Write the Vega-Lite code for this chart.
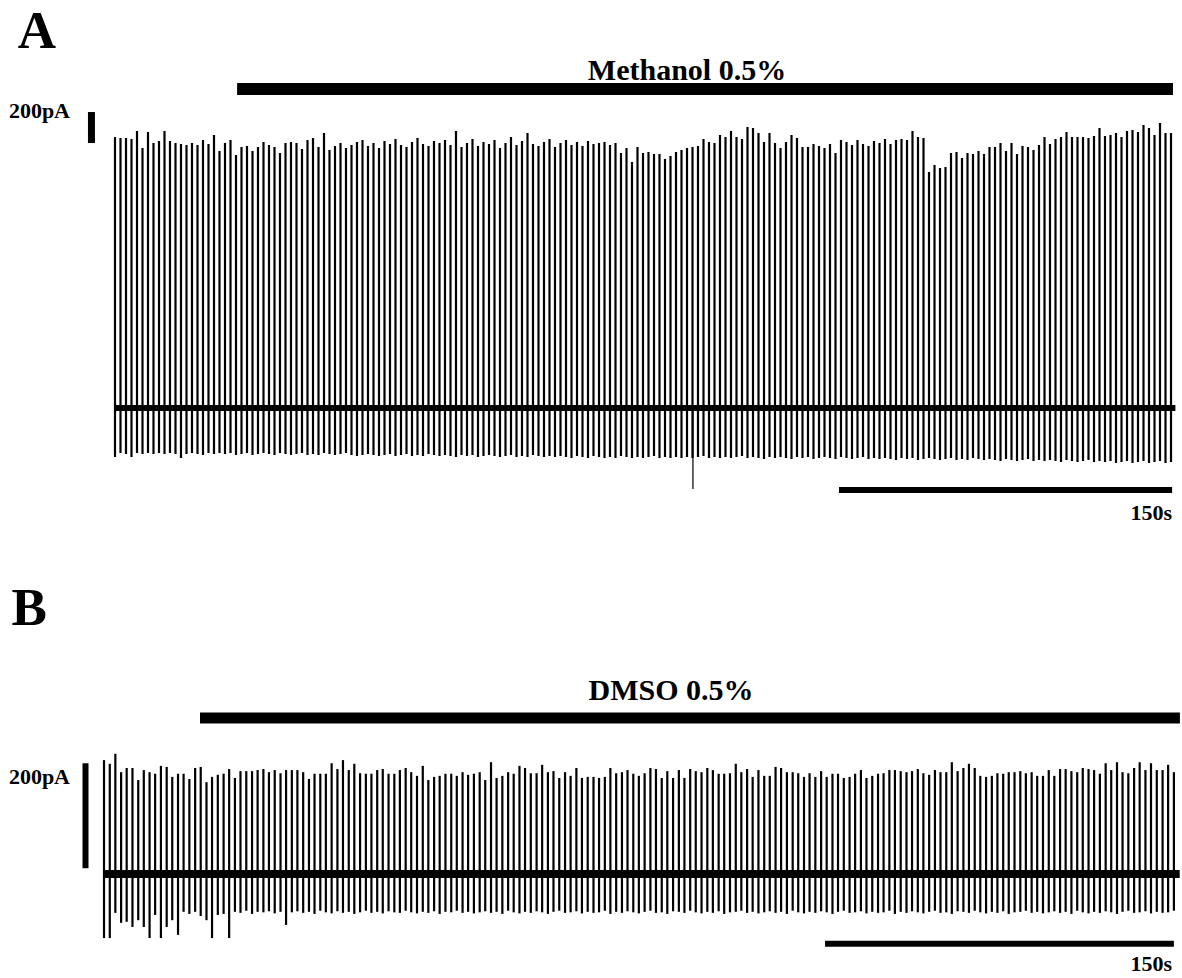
{
"$schema":"https://vega.github.io/schema/vega-lite/v6.json",
"padding":0,"spacing":0,
"config":{"view":{"stroke":null},"text":{"font":"Liberation Serif","fontWeight":"bold","color":"black","baseline":"alphabetic"},"rule":{"color":"black"}},
"datasets":{
"A":[{"t":0,"v":-316,"v2":1748},{"t":2.5,"v":-290,"v2":1742},{"t":5,"v":-297,"v2":1742},{"t":7.5,"v":-316,"v2":1735},{"t":10,"v":-290,"v2":1787},{"t":12.5,"v":-297,"v2":1677},{"t":15,"v":-290,"v2":1780},{"t":17.5,"v":-297,"v2":1709},{"t":20,"v":-290,"v2":1722},{"t":22.5,"v":-297,"v2":1787},{"t":25,"v":-290,"v2":1722},{"t":27.5,"v":-297,"v2":1709},{"t":30,"v":-323,"v2":1703},{"t":32.5,"v":-297,"v2":1696},{"t":35,"v":-290,"v2":1709},{"t":37.5,"v":-297,"v2":1696},{"t":40,"v":-303,"v2":1729},{"t":42.5,"v":-290,"v2":1703},{"t":45,"v":-297,"v2":1761},{"t":47.5,"v":-290,"v2":1658},{"t":50,"v":-297,"v2":1709},{"t":52.5,"v":-290,"v2":1729},{"t":55,"v":-303,"v2":1632},{"t":57.5,"v":-297,"v2":1683},{"t":60,"v":-290,"v2":1690},{"t":62.5,"v":-303,"v2":1658},{"t":65,"v":-297,"v2":1683},{"t":67.5,"v":-290,"v2":1716},{"t":70,"v":-297,"v2":1696},{"t":72.5,"v":-303,"v2":1683},{"t":75,"v":-290,"v2":1645},{"t":77.5,"v":-297,"v2":1709},{"t":80,"v":-303,"v2":1716},{"t":82.5,"v":-297,"v2":1709},{"t":85,"v":-290,"v2":1671},{"t":87.5,"v":-303,"v2":1729},{"t":90,"v":-297,"v2":1742},{"t":92.5,"v":-303,"v2":1683},{"t":95,"v":-290,"v2":1774},{"t":97.5,"v":-297,"v2":1664},{"t":100,"v":-303,"v2":1690},{"t":102.5,"v":-297,"v2":1709},{"t":105,"v":-290,"v2":1677},{"t":107.5,"v":-303,"v2":1696},{"t":110,"v":-310,"v2":1716},{"t":112.5,"v":-303,"v2":1729},{"t":115,"v":-297,"v2":1690},{"t":117.5,"v":-303,"v2":1709},{"t":120,"v":-310,"v2":1677},{"t":122.5,"v":-303,"v2":1722},{"t":125,"v":-297,"v2":1703},{"t":127.5,"v":-310,"v2":1735},{"t":130,"v":-303,"v2":1696},{"t":132.5,"v":-297,"v2":1683},{"t":135,"v":-310,"v2":1716},{"t":137.5,"v":-303,"v2":1742},{"t":140,"v":-310,"v2":1703},{"t":142.5,"v":-297,"v2":1690},{"t":145,"v":-303,"v2":1722},{"t":147.5,"v":-310,"v2":1709},{"t":150,"v":-303,"v2":1729},{"t":152.5,"v":-310,"v2":1696},{"t":155,"v":-316,"v2":1787},{"t":157.5,"v":-303,"v2":1683},{"t":160,"v":-310,"v2":1709},{"t":162.5,"v":-303,"v2":1735},{"t":165,"v":-316,"v2":1690},{"t":167.5,"v":-310,"v2":1716},{"t":170,"v":-303,"v2":1703},{"t":172.5,"v":-310,"v2":1729},{"t":175,"v":-316,"v2":1677},{"t":177.5,"v":-310,"v2":1709},{"t":180,"v":-303,"v2":1748},{"t":182.5,"v":-316,"v2":1696},{"t":185,"v":-310,"v2":1722},{"t":187.5,"v":-316,"v2":1774},{"t":190,"v":-303,"v2":1703},{"t":192.5,"v":-310,"v2":1690},{"t":195,"v":-316,"v2":1716},{"t":197.5,"v":-310,"v2":1735},{"t":200,"v":-316,"v2":1683},{"t":202.5,"v":-310,"v2":1709},{"t":205,"v":-316,"v2":1729},{"t":207.5,"v":-323,"v2":1696},{"t":210,"v":-310,"v2":1716},{"t":212.5,"v":-316,"v2":1690},{"t":215,"v":-323,"v2":1722},{"t":217.5,"v":-310,"v2":1703},{"t":220,"v":-316,"v2":1709},{"t":222.5,"v":-323,"v2":1716},{"t":225,"v":-316,"v2":1696},{"t":227.5,"v":-323,"v2":1709},{"t":230,"v":-310,"v2":1645},{"t":232.5,"v":-316,"v2":1677},{"t":235,"v":-323,"v2":1587},{"t":237.5,"v":-316,"v2":1683},{"t":240,"v":-323,"v2":1645},{"t":242.5,"v":-316,"v2":1651},{"t":245,"v":-310,"v2":1638},{"t":247.5,"v":-323,"v2":1638},{"t":250,"v":-316,"v2":1606},{"t":252.5,"v":-323,"v2":1625},{"t":255,"v":-316,"v2":1651},{"t":257.5,"v":-323,"v2":1664},{"t":260,"v":-316,"v2":1677},{"t":262.5,"v":-323,"v2":1683},{"t":265,"v":-316,"v2":1690},{"t":267.5,"v":-310,"v2":1735},{"t":270,"v":-323,"v2":1716},{"t":272.5,"v":-316,"v2":1709},{"t":275,"v":-323,"v2":1761},{"t":277.5,"v":-316,"v2":1748},{"t":280,"v":-323,"v2":1787},{"t":282.5,"v":-316,"v2":1748},{"t":285,"v":-310,"v2":1735},{"t":287.5,"v":-323,"v2":1812},{"t":290,"v":-316,"v2":1806},{"t":292.5,"v":-323,"v2":1774},{"t":295,"v":-329,"v2":1716},{"t":297.5,"v":-316,"v2":1774},{"t":300,"v":-323,"v2":1709},{"t":302.5,"v":-316,"v2":1677},{"t":305,"v":-323,"v2":1716},{"t":307.5,"v":-329,"v2":1761},{"t":310,"v":-316,"v2":1742},{"t":312.5,"v":-323,"v2":1683},{"t":315,"v":-316,"v2":1683},{"t":317.5,"v":-329,"v2":1703},{"t":320,"v":-323,"v2":1690},{"t":322.5,"v":-316,"v2":1677},{"t":325,"v":-323,"v2":1703},{"t":327.5,"v":-329,"v2":1645},{"t":330,"v":-316,"v2":1729},{"t":332.5,"v":-323,"v2":1716},{"t":335,"v":-329,"v2":1696},{"t":337.5,"v":-323,"v2":1729},{"t":340,"v":-316,"v2":1703},{"t":342.5,"v":-329,"v2":1690},{"t":345,"v":-323,"v2":1722},{"t":347.5,"v":-329,"v2":1709},{"t":350,"v":-323,"v2":1735},{"t":352.5,"v":-329,"v2":1703},{"t":355,"v":-335,"v2":1729},{"t":357.5,"v":-323,"v2":1735},{"t":360,"v":-329,"v2":1729},{"t":362.5,"v":-323,"v2":1787},{"t":365,"v":-335,"v2":1748},{"t":367.5,"v":-329,"v2":1742},{"t":370,"v":-323,"v2":1522},{"t":372.5,"v":-329,"v2":1567},{"t":375,"v":-335,"v2":1548},{"t":377.5,"v":-329,"v2":1554},{"t":380,"v":-323,"v2":1645},{"t":382.5,"v":-335,"v2":1651},{"t":385,"v":-329,"v2":1613},{"t":387.5,"v":-335,"v2":1645},{"t":390,"v":-323,"v2":1638},{"t":392.5,"v":-329,"v2":1658},{"t":395,"v":-335,"v2":1638},{"t":397.5,"v":-329,"v2":1683},{"t":400,"v":-335,"v2":1683},{"t":402.5,"v":-342,"v2":1709},{"t":405,"v":-329,"v2":1658},{"t":407.5,"v":-335,"v2":1709},{"t":410,"v":-342,"v2":1638},{"t":412.5,"v":-335,"v2":1690},{"t":415,"v":-329,"v2":1683},{"t":417.5,"v":-342,"v2":1664},{"t":420,"v":-335,"v2":1696},{"t":422.5,"v":-342,"v2":1748},{"t":425,"v":-335,"v2":1703},{"t":427.5,"v":-342,"v2":1735},{"t":430,"v":-348,"v2":1748},{"t":432.5,"v":-335,"v2":1780},{"t":435,"v":-342,"v2":1748},{"t":437.5,"v":-348,"v2":1748},{"t":440,"v":-342,"v2":1748},{"t":442.5,"v":-335,"v2":1742},{"t":445,"v":-348,"v2":1754},{"t":447.5,"v":-342,"v2":1806},{"t":450,"v":-348,"v2":1754},{"t":452.5,"v":-342,"v2":1761},{"t":455,"v":-355,"v2":1774},{"t":457.5,"v":-348,"v2":1748},{"t":460,"v":-342,"v2":1787},{"t":462.5,"v":-355,"v2":1793},{"t":465,"v":-348,"v2":1780},{"t":467.5,"v":-342,"v2":1825},{"t":470,"v":-355,"v2":1806},{"t":472.5,"v":-348,"v2":1761},{"t":475,"v":-342,"v2":1838},{"t":477.5,"v":-355,"v2":1774},{"t":480,"v":-348,"v2":1774}],
"B":[{"t":0,"v":-122,"v2":217},{"t":2.5,"v":-122,"v2":210},{"t":4.9,"v":-74,"v2":229},{"t":7.4,"v":-93,"v2":194},{"t":9.8,"v":-91,"v2":202},{"t":12.3,"v":-101,"v2":202},{"t":14.8,"v":-88,"v2":179},{"t":17.2,"v":-101,"v2":198},{"t":19.7,"v":-122,"v2":194},{"t":22.1,"v":-78,"v2":191},{"t":24.6,"v":-122,"v2":206},{"t":27.1,"v":-101,"v2":204},{"t":29.5,"v":-88,"v2":185},{"t":32.0,"v":-116,"v2":191},{"t":34.4,"v":-72,"v2":191},{"t":36.9,"v":-76,"v2":181},{"t":39.4,"v":-72,"v2":202},{"t":41.8,"v":-80,"v2":204},{"t":44.3,"v":-88,"v2":175},{"t":46.7,"v":-122,"v2":185},{"t":49.2,"v":-78,"v2":189},{"t":51.7,"v":-76,"v2":191},{"t":54.1,"v":-122,"v2":200},{"t":56.6,"v":-72,"v2":183},{"t":59.0,"v":-74,"v2":196},{"t":61.5,"v":-70,"v2":196},{"t":64.0,"v":-76,"v2":196},{"t":66.4,"v":-72,"v2":198},{"t":68.9,"v":-73,"v2":200},{"t":71.3,"v":-71,"v2":194},{"t":73.8,"v":-75,"v2":198},{"t":76.3,"v":-72,"v2":192},{"t":78.7,"v":-97,"v2":198},{"t":81.2,"v":-73,"v2":198},{"t":83.6,"v":-71,"v2":198},{"t":86.1,"v":-74,"v2":194},{"t":88.6,"v":-72,"v2":181},{"t":91.0,"v":-76,"v2":191},{"t":93.5,"v":-70,"v2":191},{"t":95.9,"v":-73,"v2":191},{"t":98.4,"v":-75,"v2":211},{"t":100.9,"v":-71,"v2":200},{"t":103.3,"v":-74,"v2":217},{"t":105.8,"v":-72,"v2":198},{"t":108.2,"v":-76,"v2":210},{"t":110.7,"v":-73,"v2":192},{"t":113.2,"v":-70,"v2":191},{"t":115.6,"v":-74,"v2":191},{"t":118.1,"v":-72,"v2":198},{"t":120.5,"v":-75,"v2":200},{"t":123.0,"v":-71,"v2":191},{"t":125.5,"v":-73,"v2":191},{"t":127.9,"v":-74,"v2":198},{"t":130.4,"v":-70,"v2":202},{"t":132.8,"v":-73,"v2":194},{"t":135.3,"v":-75,"v2":187},{"t":137.8,"v":-72,"v2":206},{"t":140.2,"v":-74,"v2":179},{"t":142.7,"v":-71,"v2":185},{"t":145.1,"v":-76,"v2":187},{"t":147.6,"v":-72,"v2":191},{"t":150.1,"v":-73,"v2":191},{"t":152.5,"v":-70,"v2":187},{"t":155.0,"v":-74,"v2":194},{"t":157.4,"v":-72,"v2":189},{"t":159.9,"v":-75,"v2":191},{"t":162.4,"v":-73,"v2":194},{"t":164.8,"v":-71,"v2":179},{"t":167.3,"v":-74,"v2":213},{"t":169.7,"v":-72,"v2":183},{"t":172.2,"v":-76,"v2":187},{"t":174.7,"v":-70,"v2":194},{"t":177.1,"v":-73,"v2":191},{"t":179.6,"v":-75,"v2":206},{"t":182.0,"v":-72,"v2":202},{"t":184.5,"v":-74,"v2":192},{"t":187.0,"v":-71,"v2":192},{"t":189.4,"v":-73,"v2":208},{"t":191.9,"v":-76,"v2":194},{"t":194.3,"v":-72,"v2":196},{"t":196.8,"v":-70,"v2":183},{"t":199.3,"v":-74,"v2":194},{"t":201.7,"v":-73,"v2":187},{"t":204.2,"v":-71,"v2":202},{"t":206.6,"v":-75,"v2":183},{"t":209.1,"v":-72,"v2":185},{"t":211.6,"v":-74,"v2":185},{"t":214.0,"v":-73,"v2":183},{"t":216.5,"v":-70,"v2":185},{"t":218.9,"v":-76,"v2":202},{"t":221.4,"v":-72,"v2":192},{"t":223.9,"v":-74,"v2":194},{"t":226.3,"v":-71,"v2":198},{"t":228.8,"v":-73,"v2":191},{"t":231.2,"v":-75,"v2":187},{"t":233.7,"v":-72,"v2":192},{"t":236.2,"v":-70,"v2":202},{"t":238.6,"v":-74,"v2":200},{"t":241.1,"v":-73,"v2":183},{"t":243.5,"v":-76,"v2":196},{"t":246.0,"v":-71,"v2":183},{"t":248.5,"v":-72,"v2":198},{"t":250.9,"v":-74,"v2":183},{"t":253.4,"v":-70,"v2":200},{"t":255.8,"v":-73,"v2":196},{"t":258.3,"v":-75,"v2":194},{"t":260.8,"v":-72,"v2":202},{"t":263.2,"v":-74,"v2":198},{"t":265.7,"v":-71,"v2":191},{"t":268.1,"v":-76,"v2":191},{"t":270.6,"v":-73,"v2":192},{"t":273.1,"v":-72,"v2":210},{"t":275.5,"v":-70,"v2":194},{"t":278.0,"v":-74,"v2":200},{"t":280.4,"v":-72,"v2":185},{"t":282.9,"v":-75,"v2":198},{"t":285.4,"v":-73,"v2":187},{"t":287.8,"v":-71,"v2":187},{"t":290.3,"v":-74,"v2":204},{"t":292.7,"v":-72,"v2":202},{"t":295.2,"v":-76,"v2":194},{"t":297.7,"v":-70,"v2":194},{"t":300.1,"v":-73,"v2":192},{"t":302.6,"v":-75,"v2":185},{"t":305.0,"v":-72,"v2":192},{"t":307.5,"v":-74,"v2":185},{"t":310.0,"v":-71,"v2":196},{"t":312.4,"v":-73,"v2":185},{"t":314.9,"v":-76,"v2":191},{"t":317.3,"v":-72,"v2":191},{"t":319.8,"v":-70,"v2":183},{"t":322.3,"v":-74,"v2":185},{"t":324.7,"v":-73,"v2":191},{"t":327.2,"v":-71,"v2":198},{"t":329.6,"v":-75,"v2":183},{"t":332.1,"v":-72,"v2":187},{"t":334.6,"v":-74,"v2":191},{"t":337.0,"v":-73,"v2":192},{"t":339.5,"v":-70,"v2":198},{"t":341.9,"v":-76,"v2":198},{"t":344.4,"v":-72,"v2":196},{"t":346.9,"v":-74,"v2":194},{"t":349.3,"v":-71,"v2":196},{"t":351.8,"v":-73,"v2":200},{"t":354.2,"v":-75,"v2":192},{"t":356.7,"v":-72,"v2":189},{"t":359.2,"v":-70,"v2":198},{"t":361.6,"v":-74,"v2":194},{"t":364.1,"v":-73,"v2":194},{"t":366.5,"v":-76,"v2":213},{"t":369.0,"v":-71,"v2":196},{"t":371.5,"v":-72,"v2":202},{"t":373.9,"v":-74,"v2":210},{"t":376.4,"v":-70,"v2":202},{"t":378.8,"v":-73,"v2":187},{"t":381.3,"v":-75,"v2":185},{"t":383.8,"v":-72,"v2":187},{"t":386.2,"v":-74,"v2":192},{"t":388.7,"v":-71,"v2":191},{"t":391.1,"v":-76,"v2":194},{"t":393.6,"v":-73,"v2":194},{"t":396.1,"v":-72,"v2":196},{"t":398.5,"v":-70,"v2":192},{"t":401.0,"v":-74,"v2":194},{"t":403.4,"v":-72,"v2":187},{"t":405.9,"v":-75,"v2":187},{"t":408.4,"v":-73,"v2":198},{"t":410.8,"v":-71,"v2":187},{"t":413.3,"v":-74,"v2":200},{"t":415.7,"v":-72,"v2":200},{"t":418.2,"v":-76,"v2":196},{"t":420.7,"v":-70,"v2":194},{"t":423.1,"v":-73,"v2":202},{"t":425.6,"v":-75,"v2":200},{"t":428.0,"v":-72,"v2":198},{"t":430.5,"v":-74,"v2":191},{"t":433.0,"v":-71,"v2":211},{"t":435.4,"v":-73,"v2":198},{"t":437.9,"v":-76,"v2":213},{"t":440.3,"v":-72,"v2":194},{"t":442.8,"v":-70,"v2":192},{"t":445.3,"v":-74,"v2":202},{"t":447.7,"v":-73,"v2":213},{"t":450.2,"v":-71,"v2":198},{"t":452.6,"v":-75,"v2":211},{"t":455.1,"v":-72,"v2":198},{"t":457.6,"v":-74,"v2":198},{"t":460.0,"v":-73,"v2":208},{"t":462.5,"v":-70,"v2":194}]
},
"vconcat":[
{
"width":1182,"height":560,
"encoding":{
"x":{"field":"t","type":"quantitative","scale":{"domain":[-52.27,485.0],"nice":false,"zero":false},"axis":null},
"y":{"field":"v","type":"quantitative","scale":{"domain":[-980.4,2631.6],"nice":false,"zero":false},"axis":null}
},
"layer":[
{"data":{"values":[{"t":0,"t2":482,"v":0}]},"mark":{"type":"rule","strokeWidth":6},"encoding":{"x2":{"field":"t2"}}},
{"data":{"name":"A"},"mark":{"type":"rule","strokeWidth":2.2},"encoding":{"y2":{"field":"v2"}}},
{"data":{"values":[{"t":262.7,"v":-522,"v2":0}]},"mark":{"type":"rule","strokeWidth":1.2},"encoding":{"y2":{"field":"v2"}}},
{"data":{"values":[{"t":55.5,"t2":480.9,"v":2058}]},"mark":{"type":"rule","strokeWidth":12},"encoding":{"x2":{"field":"t2"}}},
{"data":{"values":[{"t":329.1,"t2":480.5,"v":-529}]},"mark":{"type":"rule","strokeWidth":6},"encoding":{"x2":{"field":"t2"}}},
{"data":{"values":[{"t":-10.7,"v":1709,"v2":1909}]},"mark":{"type":"rule","strokeWidth":7},"encoding":{"y2":{"field":"v2"}}},
{"data":{"values":[{"t":-35.5,"v":2322,"label":"A"}]},"mark":{"type":"text","fontSize":53,"align":"center"},"encoding":{"text":{"field":"label"}}},
{"data":{"values":[{"t":260,"v":2116,"label":"Methanol 0.5%"}]},"mark":{"type":"text","fontSize":30,"align":"center"},"encoding":{"text":{"field":"label"}}},
{"data":{"values":[{"t":-20.45,"v":1870,"label":"200pA"},{"t":480.45,"v":-722,"label":"150s"}]},"mark":{"type":"text","fontSize":22,"align":"right"},"encoding":{"text":{"field":"label"}}}
]
},
{
"width":1182,"height":418,
"encoding":{
"x":{"field":"t","type":"quantitative","scale":{"domain":[-44.96,466.0],"nice":false,"zero":false},"axis":null},
"y":{"field":"v","type":"quantitative","scale":{"domain":[-198.1,598.2],"nice":false,"zero":false},"axis":null}
},
"layer":[
{"data":{"values":[{"t":0,"t2":465,"v":0}]},"mark":{"type":"rule","strokeWidth":8},"encoding":{"x2":{"field":"t2"}}},
{"data":{"name":"B"},"mark":{"type":"rule","strokeWidth":2.2},"encoding":{"y2":{"field":"v2"}}},
{"data":{"values":[{"t":41.5,"t2":465.1,"v":297}]},"mark":{"type":"rule","strokeWidth":11},"encoding":{"x2":{"field":"t2"}}},
{"data":{"values":[{"t":311.7,"t2":462.5,"v":-133}]},"mark":{"type":"rule","strokeWidth":6},"encoding":{"x2":{"field":"t2"}}},
{"data":{"values":[{"t":-8.0,"v":11,"v2":211}]},"mark":{"type":"rule","strokeWidth":6},"encoding":{"y2":{"field":"v2"}}},
{"data":{"values":[{"t":-32.4,"v":474,"label":"B"}]},"mark":{"type":"text","fontSize":53,"align":"center"},"encoding":{"text":{"field":"label"}}},
{"data":{"values":[{"t":245.1,"v":331,"label":"DMSO 0.5%"}]},"mark":{"type":"text","fontSize":30,"align":"center"},"encoding":{"text":{"field":"label"}}},
{"data":{"values":[{"t":-14.7,"v":171,"label":"200pA"},{"t":461.7,"v":-185,"label":"150s"}]},"mark":{"type":"text","fontSize":22,"align":"right"},"encoding":{"text":{"field":"label"}}}
]
}
]
}
